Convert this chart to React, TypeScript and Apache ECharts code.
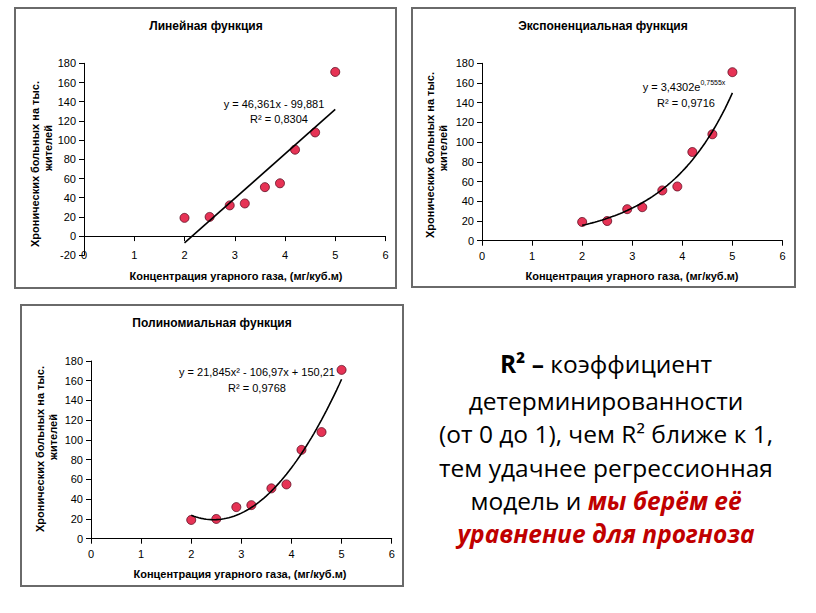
import React, { useEffect, useRef } from "react";
import * as echarts from "echarts";

// ---- data ----
const xValues = [2, 2.5, 2.9, 3.2, 3.6, 3.9, 4.2, 4.6, 5];
const yValues = [19, 20, 32, 34, 51, 55, 90, 108, 171];
const xTickRange = [0, 6];
const yTickRangeLinear = [-20, 180];
const yTickRange = [0, 180];
const linearCoef = [46.361, -99.881]; // a*x + b
const expCoef = [3.4302, 0.7555]; // a*e^(b*x)
const polyCoef = [21.845, -106.97, 150.21]; // a*x^2 + b*x + c
const trendRange = [2, 5];
const chartTitles = ["Линейная функция", "Экспоненциальная функция", "Полиномиальная функция"];
const xAxisTitle = "Концентрация угарного газа, (мг/куб.м)";
const yAxisTitleLines = ["Хронических больных на тыс.", "жителей"];
const r2Labels = ["R² = 0,8304", "R² = 0,9716", "R² = 0,9768"];

const ARIAL = "'Liberation Sans', Arial, Helvetica, sans-serif";
const BODY = "'Open Sans', 'Noto Sans', sans-serif";

function sampleCurve(f: (x: number) => number, steps: number) {
  const pts: number[][] = [];
  for (let i = 0; i <= steps; i++) {
    const x = trendRange[0] + ((trendRange[1] - trendRange[0]) * i) / steps;
    pts.push([x, f(x)]);
  }
  return pts;
}

export default function App() {
  const ref = useRef<HTMLDivElement>(null);
  useEffect(() => {
    if (!ref.current) return;
    const chart = echarts.init(ref.current, undefined, { renderer: "svg" });
    const points = xValues.map((x, i) => [x, yValues[i]]);
    const linTrend = sampleCurve((x) => linearCoef[0] * x + linearCoef[1], 1);
    const expTrend = sampleCurve((x) => expCoef[0] * Math.exp(expCoef[1] * x), 60);
    const polyTrend = sampleCurve((x) => polyCoef[0] * x * x + polyCoef[1] * x + polyCoef[2], 60);

    const grids = [
      { left: 84, top: 63.3, width: 301.5, height: 192 },
      { left: 482, top: 63.3, width: 300.5, height: 177.4 },
      { left: 91, top: 361, width: 300.7, height: 177.7 },
    ];

    const axisLabel = { fontFamily: ARIAL, fontSize: 11, color: "#000" };
    const mkX = (gridIndex: number, labelMargin: number) => ({
      type: "value",
      gridIndex,
      min: xTickRange[0],
      max: xTickRange[1],
      interval: 1,
      axisLine: { show: true, onZero: true, lineStyle: { color: "#000", width: 1 } },
      axisTick: { show: true, length: 5, lineStyle: { color: "#000" } },
      axisLabel: { ...axisLabel, margin: labelMargin },
      splitLine: { show: false },
    });
    const mkY = (gridIndex: number, range: number[]) => ({
      type: "value",
      gridIndex,
      min: range[0],
      max: range[1],
      interval: 20,
      axisLine: { show: true, onZero: false, lineStyle: { color: "#000", width: 1 } },
      axisTick: { show: true, length: 5, lineStyle: { color: "#000" } },
      axisLabel: { ...axisLabel, margin: 8 },
      splitLine: { show: false },
    });

    const scatter = (i: number) => ({
      type: "scatter",
      xAxisIndex: i,
      yAxisIndex: i,
      data: points,
      symbol: "circle",
      symbolSize: 9,
      itemStyle: { color: "#e0002a", borderColor: "#5e0c22", borderWidth: 1 },
      z: 2,
    });
    const trend = (i: number, data: number[][]) => ({
      type: "line",
      xAxisIndex: i,
      yAxisIndex: i,
      data,
      showSymbol: false,
      symbol: "none",
      lineStyle: { color: "#000", width: 1.6 },
      z: 3,
    });

    const frames = [
      [15, 8, 381, 280],
      [412, 8, 383, 279],
      [21, 305, 382, 281],
    ].map(([x, y, w, h]) => ({
      type: "rect",
      shape: { x, y, width: w, height: h },
      style: { fill: "none", stroke: "#6a6a6a", lineWidth: 2 },
      silent: true,
    }));

    const txt = (x: number, y: number, text: string, extra: any = {}, rot = 0) => ({
      type: "text",
      x,
      y,
      rotation: rot,
      style: {
        text,
        fill: "#000",
        fontFamily: ARIAL,
        fontSize: 11,
        align: "center",
        verticalAlign: "middle",
        ...extra,
      },
      silent: true,
    });

    const titleCenters = [
      [206, 26],
      [603, 26],
      [212, 323],
    ];
    const xTitleCenters = [
      [236, 276],
      [632, 276],
      [240, 574],
    ];
    const yTitleCenters = [
      [[35, 164], [48, 148]],
      [[430, 155], [443, 148]],
      [[40, 449], [53, 437]],
    ];

    const chartTexts: any[] = [];
    for (let i = 0; i < 3; i++) {
      chartTexts.push(txt(titleCenters[i][0], titleCenters[i][1], chartTitles[i], { fontWeight: "bold", fontSize: 12 }));
      chartTexts.push(txt(xTitleCenters[i][0], xTitleCenters[i][1], xAxisTitle, { fontWeight: "bold", fontSize: 11 }));
      chartTexts.push(
        txt(yTitleCenters[i][0][0], yTitleCenters[i][0][1], yAxisTitleLines[0], { fontWeight: "bold", fontSize: 11 }, Math.PI / 2)
      );
      chartTexts.push(
        txt(yTitleCenters[i][1][0], yTitleCenters[i][1][1], yAxisTitleLines[1], { fontWeight: "bold", fontSize: 11 }, Math.PI / 2)
      );
    }

    // equations
    chartTexts.push(txt(274, 104, "y = 46,361x - 99,881"));
    chartTexts.push(txt(279, 119, r2Labels[0]));
    chartTexts.push(
      txt(684, 87, "{a|y = 3,4302e}{s|0,7555x}", {
        rich: {
          a: { fontFamily: ARIAL, fontSize: 11, lineHeight: 16, fill: "#000" },
          s: { fontFamily: ARIAL, fontSize: 7, lineHeight: 8, verticalAlign: "top", fill: "#000" },
        },
      })
    );
    chartTexts.push(txt(686, 103, r2Labels[1]));
    chartTexts.push(txt(257, 372, "y = 21,845x² - 106,97x + 150,21"));
    chartTexts.push(txt(257, 388, r2Labels[2]));

    // explanatory text block
    const bodyFs = 24.5;
    const red = { fill: "#c00000", fontWeight: "bold", fontStyle: "italic", fontFamily: BODY, fontSize: bodyFs };
    const body = (y: number, text: string) =>
      txt(606, y, text, {
        fontFamily: BODY,
        fontSize: bodyFs,
        rich: {
          b: { fontFamily: BODY, fontSize: bodyFs, fontWeight: "bold", fill: "#000" },
          r: red,
        },
      });
    const bodyTexts = [
      body(363, "{b|R² –} коэффициент"),
      body(400, "детерминированности"),
      body(433.5, "(от 0 до 1), чем R² ближе к 1,"),
      body(467, "тем удачнее регрессионная"),
      body(500, "модель и {r|мы берём её}"),
      body(533.5, "{r|уравнение для прогноза}"),
    ];

    chart.setOption({
      animation: false,
      backgroundColor: "#fff",
      grid: grids,
      // chart 1: axis line sits on y = 0, labels just below it
      xAxis: [mkX(0, -6), mkX(1, 10), mkX(2, 10)],
      yAxis: [mkY(0, yTickRangeLinear), mkY(1, yTickRange), mkY(2, yTickRange)],
      series: [
        scatter(0),
        trend(0, linTrend),
        scatter(1),
        trend(1, expTrend),
        scatter(2),
        trend(2, polyTrend),
      ],
      graphic: [...frames, ...chartTexts, ...bodyTexts],
    });
    return () => chart.dispose();
  }, []);
  return (
    <div
      ref={ref}
      style={{ position: "absolute", left: 0, top: 0, width: 816, height: 613, background: "#fff" }}
    />
  );
}
